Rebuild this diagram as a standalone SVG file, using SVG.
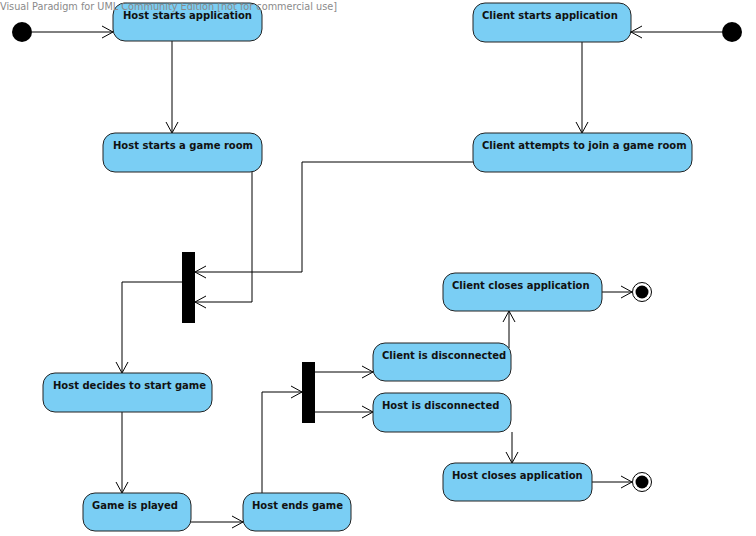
<svg xmlns="http://www.w3.org/2000/svg" width="756" height="536" viewBox="0 0 756 536">
<style>
.n rect{fill:#7acef4;stroke:#222;stroke-width:1}
.n text{font-family:"DejaVu Sans",sans-serif;font-weight:bold;font-size:10px;fill:#111}
.c path{fill:none;stroke:#000;stroke-width:1}
.bar{fill:#000}
.wm{font-family:"DejaVu Sans",sans-serif;font-size:10px;fill:#8a8a8a}
</style>
<defs>
<marker id="a" markerUnits="userSpaceOnUse" markerWidth="14" markerHeight="14" viewBox="0 0 14 14" refX="12" refY="7" orient="auto">
<path d="M1,1 L12,7 L1,13" fill="none" stroke="#000" stroke-width="1"/>
</marker>
</defs>
<rect width="756" height="536" fill="#fff"/>
<g id="connectors" class="c">
<path d="M32,32 H113" marker-end="url(#a)"/>
<path d="M172,41 V133" marker-end="url(#a)"/>
<path d="M722,32 H631" marker-end="url(#a)"/>
<path d="M582,42 V133" marker-end="url(#a)"/>
<path d="M473,162 H302 V272 H195" marker-end="url(#a)"/>
<path d="M252,172 V302 H195" marker-end="url(#a)"/>
<path d="M182,282 H122 V373" marker-end="url(#a)"/>
<path d="M122,412 V493" marker-end="url(#a)"/>
<path d="M191,522 H243" marker-end="url(#a)"/>
<path d="M262,493 V392 H302" marker-end="url(#a)"/>
<path d="M315,372 H373" marker-end="url(#a)"/>
<path d="M315,412 H373" marker-end="url(#a)"/>
<path d="M509,348 V311" marker-end="url(#a)"/>
<path d="M512,432 V463" marker-end="url(#a)"/>
<path d="M602,292 H632" marker-end="url(#a)"/>
<path d="M592,482 H632" marker-end="url(#a)"/>
</g>
<g id="start-host"><circle cx="22" cy="32" r="10" fill="#000"/></g>
<g id="start-client"><circle cx="732" cy="32" r="10" fill="#000"/></g>
<g id="fork1"><rect class="bar" x="182" y="252" width="13" height="71"/></g>
<g id="fork2"><rect class="bar" x="302" y="362" width="13" height="61"/></g>
<g id="end-client"><circle cx="642" cy="292" r="9.5" fill="#fff" stroke="#000"/><circle cx="642" cy="292" r="6.5" fill="#000"/></g>
<g id="end-host"><circle cx="642" cy="482" r="9.5" fill="#fff" stroke="#000"/><circle cx="642" cy="482" r="6.5" fill="#000"/></g>
<g id="host-starts-app" class="n"><rect x="113" y="3" width="149" height="38" rx="12"/><text x="123" y="19">Host starts application</text></g>
<g id="client-starts-app" class="n"><rect x="473" y="3" width="158" height="39" rx="12"/><text x="482" y="19">Client starts application</text></g>
<g id="host-game-room" class="n"><rect x="103" y="133" width="159" height="39" rx="12"/><text x="113" y="149">Host starts a game room</text></g>
<g id="client-join" class="n"><rect x="473" y="133" width="219" height="39" rx="12"/><text x="482" y="149">Client attempts to join a game room</text></g>
<g id="host-decides" class="n"><rect x="43" y="373" width="169" height="39" rx="12"/><text x="53" y="389">Host decides to start game</text></g>
<g id="game-played" class="n"><rect x="83" y="493" width="108" height="38" rx="12"/><text x="92" y="509">Game is played</text></g>
<g id="host-ends" class="n"><rect x="243" y="493" width="108" height="38" rx="12"/><text x="252" y="509">Host ends game</text></g>
<g id="client-disc" class="n"><rect x="373" y="343" width="138" height="38" rx="12"/><text x="382" y="359">Client is disconnected</text></g>
<g id="host-disc" class="n"><rect x="373" y="393" width="138" height="39" rx="12"/><text x="382" y="409">Host is disconnected</text></g>
<g id="client-closes" class="n"><rect x="443" y="273" width="159" height="38" rx="12"/><text x="452" y="289">Client closes application</text></g>
<g id="host-closes" class="n"><rect x="443" y="463" width="149" height="38" rx="12"/><text x="452" y="479">Host closes application</text></g>
<text class="wm" x="0" y="10" textLength="337" lengthAdjust="spacingAndGlyphs">Visual Paradigm for UML Community Edition [not for commercial use]</text>
</svg>
